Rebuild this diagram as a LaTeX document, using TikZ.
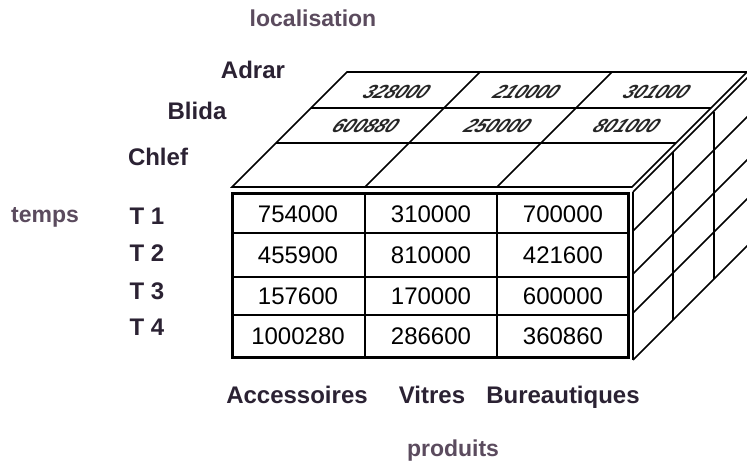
\documentclass[tikz,border=0pt]{standalone}
\usepackage{fontspec}
\setmainfont{Liberation Sans}
\begin{document}
\begin{tikzpicture}[x=1pt,y=-1pt,
  lbl/.style={font=\bfseries\fontsize{24}{26}\selectfont,text=labdark,inner sep=0pt,text height=17pt,text depth=0pt},
  axis/.style={font=\bfseries\fontsize{23}{25}\selectfont,text=labaxis,inner sep=0pt,text height=17pt,text depth=0pt},
  num/.style={font=\fontsize{24}{26}\selectfont,inner sep=0pt},
  snum/.style={font=\bfseries\itshape\fontsize{19}{21}\selectfont,inner sep=0pt,xslant=0.6,text=black!85},
  edge/.style={line width=1.6pt,black},
  thick border/.style={line width=3pt,black}]
\definecolor{labdark}{HTML}{2B2233}
\definecolor{labaxis}{HTML}{5B4B5E}
\useasboundingbox (0,0) rectangle (747,461);
\clip (0,0) rectangle (747,461);
\fill[white] (0,0) rectangle (747,461);
% top face
\draw[edge] (232,187) -- (632,187) -- (747,72) -- (347,72) -- cycle;
\draw[edge] (311,108) -- (711,108);
\draw[edge] (276,143) -- (676,143);
\draw[edge] (365,187) -- (480,72);
\draw[edge] (497,187) -- (612,72);
% right face
\draw[edge] (633,192) -- (633,360);
\foreach \yy in {192,231,274,313,360} {\draw[edge] (633,\yy) -- (748,\yy-115);}
\draw[edge] (673,152) -- (673,320);
\draw[edge] (714,112) -- (714,279);
% front face
\draw[thick border] (232,193) rectangle (628,357);
\draw[edge] (365,193) -- (365,357);
\draw[edge] (497,193) -- (497,357);
\draw[edge] (232,233) -- (628,233);
\draw[edge] (232,277) -- (628,277);
\draw[edge] (232,315) -- (628,315);
% front values
\node[num] (v11) at (298,214) {754000};
\node[num] (v12) at (431,214) {310000};
\node[num] (v13) at (563,214) {700000};
\node[num] (v21) at (298,255) {455900};
\node[num] (v22) at (431,255) {810000};
\node[num] (v23) at (563,255) {421600};
\node[num] (v31) at (298,296) {157600};
\node[num] (v32) at (431,296) {170000};
\node[num] (v33) at (563,296) {600000};
\node[num] (v41) at (298,336) {1000280};
\node[num] (v42) at (431,336) {286600};
\node[num] (v43) at (563,336) {360860};
% top values (slanted)
\node[snum] (a1) at (397,92) {328000};
\node[snum] (a2) at (527,92) {210000};
\node[snum] (a3) at (657,92) {301000};
\node[snum] (b1) at (366,126) {600880};
\node[snum] (b2) at (498,126) {250000};
\node[snum] (b3) at (627,126) {801000};
% labels
\node[axis] (loc) at (313,18) {localisation};
\node[lbl] (adrar) at (253,70) {Adrar};
\node[lbl] (blida) at (197,111) {Blida};
\node[lbl] (chlef) at (158,157) {Chlef};
\node[axis] (temps) at (45,214) {temps};
\node[lbl] (t1) at (147,216) {T 1};
\node[lbl] (t2) at (147,253) {T 2};
\node[lbl] (t3) at (147,291) {T 3};
\node[lbl] (t4) at (147,327) {T 4};
\node[lbl] (acc) at (297,395) {Accessoires};
\node[lbl] (vit) at (432,395) {Vitres};
\node[lbl] (bur) at (563,395) {Bureautiques};
\node[axis] (prod) at (453,448) {produits};
\end{tikzpicture}
\end{document}
